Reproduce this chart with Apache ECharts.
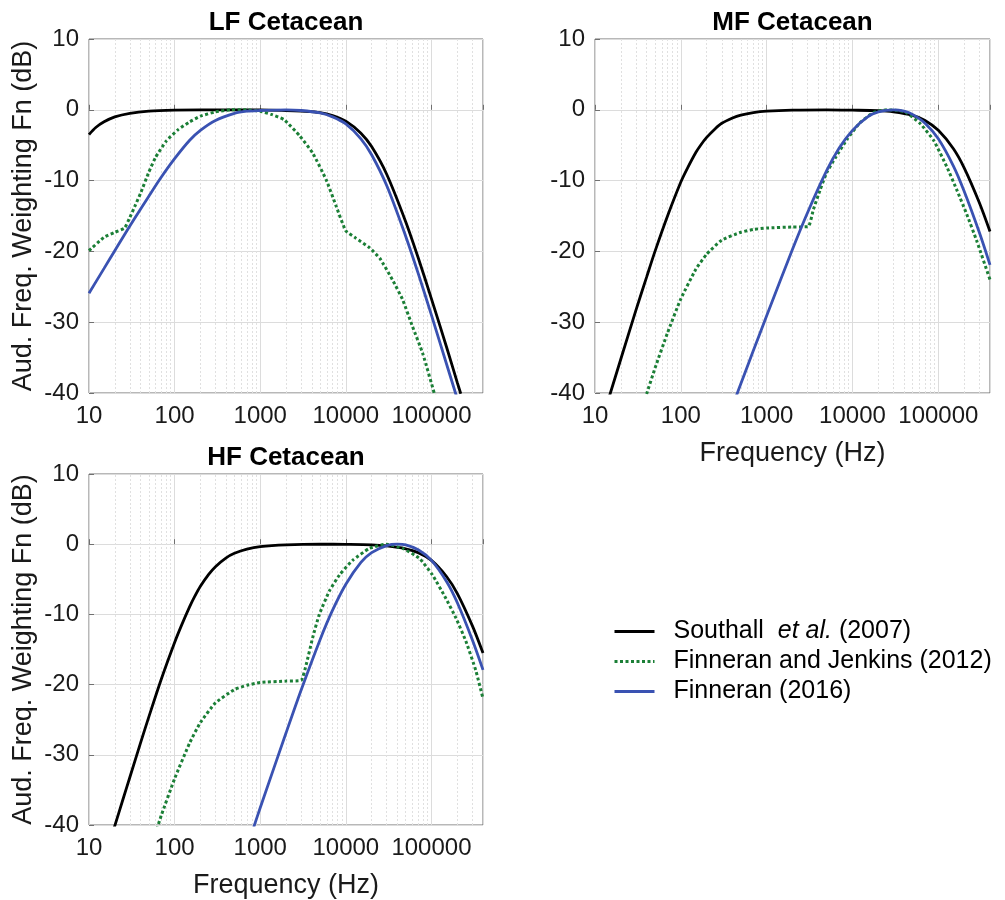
<!DOCTYPE html>
<html>
<head>
<meta charset="utf-8">
<script src="https://cdn.jsdelivr.net/npm/echarts@6/dist/echarts.min.js"></script>
<style>
    html, body { margin: 0; padding: 0; background: #fff; }
    #main { width: 1005px; height: 900px; }
</style>
</head>
<body>
<div id="main"></div>
<script>
    // minor (2..9 per decade) grid positions on the log frequency axis
    var minorFreq = [20, 30, 40, 50, 60, 70, 80, 90,
        200, 300, 400, 500, 600, 700, 800, 900,
        2000, 3000, 4000, 5000, 6000, 7000, 8000, 9000,
        20000, 30000, 40000, 50000, 60000, 70000, 80000, 90000,
        200000, 300000];

    var panelTitles = ['LF Cetacean', 'MF Cetacean', 'HF Cetacean'];
    var seriesNames = ['Southall et al. (2007)', 'Finneran and Jenkins (2012)', 'Finneran (2016)'];

    // ---- LF cetacean ----
    var lfSouthallF = [10, 12, 15, 20, 30, 50, 100, 200, 500, 1000, 2000, 3000, 5000, 7000, 10000, 15000, 20000, 30000, 50000, 70000, 100000, 150000, 200000, 220000];
    var lfSouthallDb = [-3.5, -2.5, -1.7, -1.0, -0.5, -0.2, -0.05, 0, 0, 0, -0.1, -0.2, -0.4, -0.8, -1.6, -3.3, -5.2, -9.1, -15.8, -20.9, -26.7, -33.5, -38.5, -40.1];
    var lfJenkinsF = [10, 15, 20, 26, 30, 35, 40, 50, 60, 80, 110, 150, 200, 300, 450, 700, 1000, 1350, 1900, 2900, 4100, 5900, 7700, 10000, 13000, 19000, 25000, 35000, 46000, 60000, 79000, 110000];
    var lfJenkinsDb = [-19.9, -18.0, -17.3, -16.7, -15.2, -13.4, -11.8, -8.8, -6.7, -4.4, -2.8, -1.7, -0.9, -0.3, 0, 0, -0.2, -0.65, -1.4, -3.7, -6.1, -9.9, -13.6, -17.1, -18.1, -19.5, -21.0, -24.0, -26.8, -30.6, -34.4, -40.4];
    var lf2016F = [10, 15, 20, 30, 50, 70, 100, 150, 200, 300, 500, 700, 1000, 2000, 3000, 5000, 7000, 10000, 15000, 20000, 30000, 50000, 70000, 100000, 150000, 200000];
    var lf2016Db = [-25.9, -22.4, -19.9, -16.4, -12.2, -9.5, -6.9, -4.3, -2.9, -1.5, -0.5, -0.2, -0.1, 0, -0.1, -0.45, -1.0, -2.0, -4.1, -6.35, -10.7, -17.85, -23.1, -29.0, -35.9, -40.8];

    // ---- MF cetacean ----
    var mfSouthallF = [14, 20, 30, 40, 50, 70, 100, 120, 150, 170, 200, 250, 300, 400, 500, 700, 1000, 2000, 5000, 10000, 20000, 30000, 50000, 70000, 100000, 150000, 200000, 300000, 400000];
    var mfSouthallDb = [-41.3, -35.2, -28.3, -23.6, -20.0, -15.0, -10.2, -8.2, -6.0, -5.0, -3.9, -2.7, -1.9, -1.15, -0.75, -0.4, -0.2, -0.05, 0, -0.05, -0.13, -0.3, -0.8, -1.5, -2.9, -5.5, -8.2, -13.1, -17.2];
    var mfJenkinsF = [38, 40, 50, 70, 100, 150, 200, 300, 500, 700, 1000, 2000, 3050, 3500, 4200, 5000, 6300, 8600, 12300, 17500, 25000, 35000, 43000, 61000, 88000, 125000, 164000, 215000, 280000, 400000];
    var mfJenkinsDb = [-40.9, -40.1, -36.5, -31.5, -26.7, -22.5, -20.4, -18.4, -17.3, -16.9, -16.7, -16.55, -16.5, -14.1, -11.3, -8.9, -6.8, -4.2, -1.8, -0.4, 0, -0.1, -0.45, -1.9, -4.3, -8.0, -11.3, -14.8, -18.5, -24.0];
    var mf2016F = [440, 500, 700, 1000, 2000, 3000, 5000, 7000, 10000, 15000, 20000, 30000, 40000, 50000, 70000, 100000, 150000, 200000, 300000, 400000];
    var mf2016Db = [-40.5, -38.7, -34.0, -29.1, -19.7, -14.5, -8.6, -5.4, -2.9, -1.0, -0.3, 0, -0.2, -0.65, -1.9, -4.1, -7.95, -11.5, -17.3, -21.9];

    // ---- HF cetacean ----
    var hfSouthallF = [19, 25, 30, 40, 50, 70, 100, 120, 150, 170, 200, 250, 300, 400, 500, 700, 1000, 2000, 5000, 10000, 20000, 30000, 50000, 70000, 100000, 150000, 200000, 300000, 400000];
    var hfSouthallDb = [-41.0, -36.3, -33.2, -28.3, -24.6, -19.2, -14.0, -11.6, -8.9, -7.55, -6.0, -4.3, -3.2, -1.95, -1.3, -0.7, -0.35, -0.1, 0, -0.03, -0.1, -0.25, -0.65, -1.2, -2.3, -4.6, -7.0, -11.6, -15.5];
    var hfJenkinsF = [62, 70, 100, 150, 200, 300, 500, 700, 1000, 2000, 3000, 3450, 4100, 4900, 6400, 8400, 12000, 18800, 29500, 46000, 72000, 103000, 147000, 193000, 252000, 330000, 400000];
    var hfJenkinsDb = [-40.6, -38.6, -33.4, -28.3, -25.4, -22.6, -20.7, -20.1, -19.7, -19.5, -19.4, -17.1, -13.3, -10.0, -6.7, -4.4, -2.3, -0.6, 0, -0.6, -2.0, -4.4, -7.7, -10.5, -13.8, -18.0, -22.0];
    var hf2016F = [840, 1000, 2000, 3000, 5000, 7000, 10000, 15000, 20000, 30000, 40000, 50000, 70000, 100000, 150000, 200000, 300000, 400000];
    var hf2016Db = [-40.3, -37.55, -26.9, -20.8, -13.6, -9.4, -5.7, -2.6, -1.2, -0.2, 0, -0.1, -0.8, -2.3, -5.3, -8.3, -13.6, -17.9];

    var panelData = [
        [[lfSouthallF, lfSouthallDb], [lfJenkinsF, lfJenkinsDb], [lf2016F, lf2016Db]],
        [[mfSouthallF, mfSouthallDb], [mfJenkinsF, mfJenkinsDb], [mf2016F, mf2016Db]],
        [[hfSouthallF, hfSouthallDb], [hfJenkinsF, hfJenkinsDb], [hf2016F, hf2016Db]]
    ];

    var FONT = '"Liberation Sans", Arial, Helvetica, sans-serif';
    var TXT = '#1a1a1a';
    var lineColors = ['#000000', '#1b7f36', '#3a52b2'];

    // plot boxes [left, top, width, height]
    var boxes = [[89, 39, 394, 354], [595, 39, 395, 354], [89, 474, 394, 354]];

    function pairs(f, v) {
        return f.map(function (x, i) { return [x, v[i]]; });
    }

    var grids = [], xAxes = [], yAxes = [], titles = [], series = [];

    boxes.forEach(function (b, p) {
        grids.push({
            left: b[0], top: b[1], width: b[2], height: b[3],
            show: true, borderColor: '#707070', borderWidth: 1, backgroundColor: '#fff'
        });
        xAxes.push({
            gridIndex: p,
            type: 'log',
            logBase: 10,
            min: 10,
            max: 400000,
            name: p === 0 ? '' : 'Frequency (Hz)',
            nameLocation: 'middle',
            nameGap: 47,
            nameTextStyle: { fontSize: 27, color: TXT, fontFamily: FONT },
            axisLine: { show: false },
            axisTick: { show: true, inside: true, length: 5, lineStyle: { color: '#707070' } },
            axisLabel: {
                fontSize: 24, color: TXT, fontFamily: FONT, margin: 11,
                formatter: function (v) {
                    var l = Math.log10(v);
                    return Math.abs(l - Math.round(l)) < 1e-6 ? String(Math.round(v)) : '';
                }
            },
            splitLine: { show: true, lineStyle: { color: '#dcdcdc', width: 1 } }
        });
        yAxes.push({
            gridIndex: p,
            type: 'value',
            min: -40,
            max: 10,
            interval: 10,
            name: p === 1 ? '' : 'Aud. Freq. Weighting Fn (dB)',
            nameLocation: 'middle',
            nameGap: 52,
            nameTextStyle: { fontSize: 27, color: TXT, fontFamily: FONT },
            axisLine: { show: false },
            axisTick: { show: true, inside: true, length: 5, lineStyle: { color: '#707070' } },
            axisLabel: { fontSize: 24, color: TXT, fontFamily: FONT, margin: 10 },
            splitLine: { show: true, lineStyle: { color: '#dcdcdc', width: 1 } }
        });
        titles.push({
            text: panelTitles[p],
            left: b[0] + b[2] / 2,
            top: b[1] - 29,
            textAlign: 'center',
            padding: 0,
            textStyle: { fontSize: 26, fontWeight: 'bold', color: '#000', fontFamily: FONT }
        });

        // dotted minor grid, kept under the curves
        series.push({
            type: 'line',
            xAxisIndex: p,
            yAxisIndex: p,
            data: [],
            silent: true,
            z: 1,
            markLine: {
                silent: true,
                z: 1,
                symbol: 'none',
                label: { show: false },
                animation: false,
                lineStyle: { type: [2, 2], color: '#e0e0e0', width: 1 },
                emphasis: { disabled: true },
                data: minorFreq.map(function (f) { return { xAxis: f }; })
            }
        });

        panelData[p].forEach(function (d, k) {
            series.push({
                name: seriesNames[k],
                type: 'line',
                xAxisIndex: p,
                yAxisIndex: p,
                data: pairs(d[0], d[1]),
                showSymbol: false,
                symbol: 'none',
                smooth: k === 1 ? 0.15 : 0.3,
                clip: true,
                z: k === 1 ? 4 : (k === 0 ? 3 : 5),
                lineStyle: k === 1
                    ? { color: lineColors[k], width: 3, type: [3, 2.5] }
                    : { color: lineColors[k], width: 2.8 },
                itemStyle: { color: lineColors[k] }
            });
        });
    });

    var option = {
        animation: false,
        backgroundColor: '#fff',
        textStyle: { fontFamily: FONT },
        title: titles,
        legend: {
            orient: 'vertical',
            left: 613,
            top: 619,
            itemWidth: 40,
            itemHeight: 14,
            itemGap: 5,
            padding: 0,
            data: seriesNames,
            itemStyle: { opacity: 0 },
            lineStyle: { width: 3 },
            formatter: function (name) {
                return name === seriesNames[0] ? 'Southall  {i|et al.} (2007)' : name;
            },
            textStyle: {
                fontSize: 25,
                color: '#000',
                fontFamily: FONT,
                padding: [0, 0, 0, 14],
                rich: { i: { fontStyle: 'italic', fontSize: 25, fontFamily: FONT, color: '#000' } }
            }
        },
        grid: grids,
        xAxis: xAxes,
        yAxis: yAxes,
        series: series
    };

    var chart = echarts.init(document.getElementById('main'), null, { renderer: 'canvas' });
    chart.setOption(option);
</script>
</body>
</html>
